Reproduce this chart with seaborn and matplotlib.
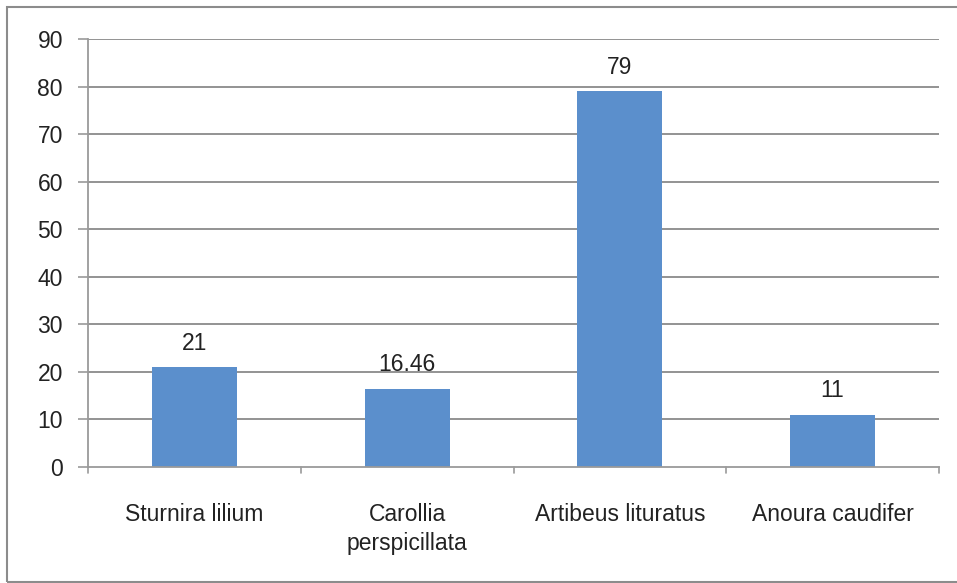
import matplotlib
matplotlib.use("Agg")
import matplotlib.pyplot as plt
import seaborn as sns
import pandas as pd
from matplotlib.patches import Rectangle

species = ["Sturnira lilium", "Carollia\nperspicillata", "Artibeus lituratus", "Anoura caudifer"]
values = [21, 16.46, 79, 11]
value_labels = ["21", "16.46", "79", "11"]
y_ticks = [0, 10, 20, 30, 40, 50, 60, 70, 80, 90]

sns.set_theme(style="white")
plt.rcParams["font.family"] = ["Liberation Sans", "DejaVu Sans"]

W, H = 957, 583
fig = plt.figure(figsize=(W / 100, H / 100), dpi=100)
ax = fig.add_axes([88 / W, 1 - 467 / H, (939 - 88) / W, (467 - 39) / H])

df = pd.DataFrame({"species": species, "value": values})
sns.barplot(data=df, x="species", y="value", color="#5b8fcc", width=0.4,
            saturation=1, ax=ax, edgecolor="none")

ax.set_ylim(0, 90)
ax.set_xlim(-0.5, len(species) - 0.5)
ax.set_yticks(y_ticks)
ax.set_yticklabels([str(t) for t in y_ticks], fontsize=16.5, color="#222222")
ax.set_xlabel("")
ax.set_ylabel("")

# horizontal gridlines
for t in y_ticks[1:]:
    ax.axhline(t, color="#8a8a8a", lw=1.3, zorder=0)
ax.set_axisbelow(True)

for s in ["top", "right"]:
    ax.spines[s].set_visible(False)
for s in ["left", "bottom"]:
    ax.spines[s].set_color("#9a9a9a")
    ax.spines[s].set_linewidth(1.3)

ax.tick_params(axis="y", length=7, width=1.2, color="#9a9a9a", pad=11, left=True)
ax.tick_params(axis="x", length=0, pad=26)
ax.set_xticks(range(len(species)))
ax.set_xticklabels(species, fontsize=16.5, color="#222222", linespacing=1.3)

# category boundary ticks on the x-axis
for b in [-0.5, 0.5, 1.5, 2.5, 3.5]:
    ax.plot([b, b], [0, -1.3], color="#9a9a9a", lw=1.2, clip_on=False)

for i, (v, lab) in enumerate(zip(values, value_labels)):
    ax.text(i, v + 3.7, lab, ha="center", va="baseline", fontsize=16.5,
            color="#222222")

# outer frame
fig.patches.append(Rectangle((7 / W, 1 / H), 1.0, (H - 8) / H, transform=fig.transFigure,
                             fill=False, edgecolor="#8c8c8c", lw=1.5))

fig.savefig("out.png", dpi=100)
